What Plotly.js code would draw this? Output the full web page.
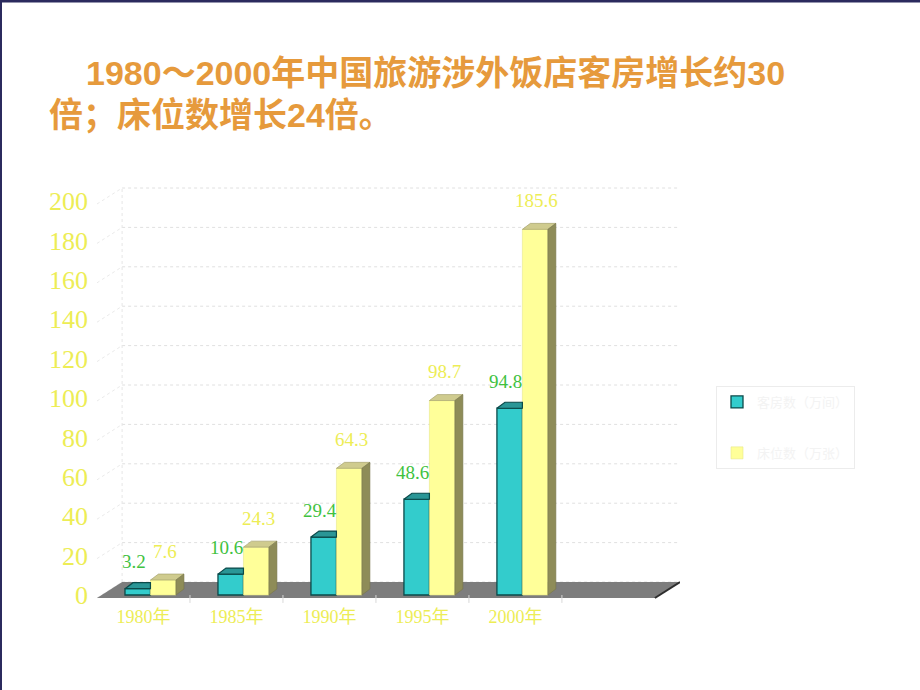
<!DOCTYPE html>
<html><head><meta charset="utf-8">
<script src="https://cdn.plot.ly/plotly-3.0.1.min.js"></script>
<style>html,body{margin:0;padding:0;background:#fff}</style>
</head><body><div id="chart" style="width:920px;height:690px"></div>
<script>
// ---- data ----
const years = ['1980年', '1985年', '1990年', '1995年', '2000年'];
const rooms = [3.2, 10.6, 29.4, 48.6, 94.8];
const beds = [7.6, 24.3, 64.3, 98.7, 185.6];
const seriesNames = ['客房数（万间）', '床位数（万张）'];
const yTickVals = [0, 20, 40, 60, 80, 100, 120, 140, 160, 180, 200];
const titleLine1 = '1980～2000年中国旅游涉外饭店客房增长约30';
const titleLine2 = '倍；床位数增长24倍。';

// ---- geometry / style ----
const L = 97, R = 680, T = 180, B = 604, W = 920, H = 690;
const PXU = 1.97, ZERO_PX = 595;
const yMin = -(B - ZERO_PX) / PXU, yMax = (ZERO_PX - T) / PXU;
const xMin = -0.5, xMax = 5.77;
const BW = 0.274, SH = 0.075, dX = 8 / 93, dY = 6 / PXU;
const fdX = 0.27, fdY = 16 / PXU, yb = -3 / PXU;
const X = px => (px - L) / (R - L);
const Y = py => (B - py) / (B - T);
const serif = "'Liberation Serif', 'Noto Sans CJK SC', serif";
const teal = '#33CCCC', tealTop = '#2A9696', tealEdge = '#0B4A4A';
const yel = '#FFFF99', yelTop = '#CFCB8E', yelSide = '#8E8C58';
const green = '#3FC23F', ylab = '#EDED55';

const idx = years.map((_, i) => i);
const traces = [];
traces.push({type: 'bar', name: seriesNames[0], legendgroup: 'g1', x: idx, y: rooms, width: BW, offset: SH - BW,
  marker: {color: teal, line: {color: tealEdge, width: 1.3}}, hoverinfo: 'skip'});
traces.push({type: 'bar', name: seriesNames[1], legendgroup: 'g2', x: idx, y: beds, width: BW, offset: SH,
  marker: {color: yel, line: {color: '#E8E88A', width: 0.6}}, hoverinfo: 'skip'});

function poly(xs, ys, fill, line, lw) {
  traces.push({type: 'scatter', mode: 'lines', x: xs.concat([xs[0]]), y: ys.concat([ys[0]]),
    fill: 'toself', fillcolor: fill, line: {color: line, width: lw}, showlegend: false, hoverinfo: 'skip'});
}
idx.forEach(i => {
  const v = rooms[i], x0 = i + SH - BW, x1 = i + SH;
  poly([x0, x1, x1, x0 + dX], [v, v, v + dY, v + dY], tealTop, tealEdge, 1.2);
});
idx.forEach(i => {
  const v = beds[i], x0 = i + SH, x1 = i + SH + BW;
  poly([x0, x1, x1 + dX, x0 + dX], [v, v, v + dY, v + dY], yelTop, '#9E9B66', 0.6);
  poly([x1, x1 + dX, x1 + dX, x1], [0, dY, v + dY, v], yelSide, '#77754A', 0.6);
});

// ---- shapes ----
const shapes = [];
yTickVals.forEach(v => {
  shapes.push({type: 'line', xref: 'x', yref: 'y', layer: 'below', x0: xMin + fdX, x1: xMax, y0: v + fdY + yb, y1: v + fdY + yb,
    line: {color: '#E0E0E0', width: 1, dash: 'dot'}});
  shapes.push({type: 'line', xref: 'x', yref: 'y', layer: 'below', x0: xMin, x1: xMin + fdX, y0: v + yb, y1: v + fdY + yb,
    line: {color: '#EAEAEA', width: 1, dash: 'dot'}});
});
shapes.push({type: 'line', xref: 'x', yref: 'y', layer: 'below', x0: xMin + fdX, x1: xMin + fdX, y0: fdY + yb, y1: 200 + fdY + yb,
  line: {color: '#E6E6E6', width: 1, dash: 'dot'}});
const fx0 = xMin, fx1 = xMin + 6;
shapes.push({type: 'path', xref: 'x', yref: 'y', layer: 'below',
  path: `M ${fx0},${yb} L ${fx1},${yb} L ${fx1 + fdX},${yb + fdY} L ${fx0 + fdX},${yb + fdY} Z`,
  fillcolor: '#7D7D7D', line: {width: 0}});
shapes.push({type: 'line', xref: 'x', yref: 'y', layer: 'below', x0: fx1, x1: fx1 + fdX, y0: yb, y1: yb + fdY,
  line: {color: '#2E2E2E', width: 2}});
for (let k = 1; k <= 5; k++) {
  shapes.push({type: 'line', xref: 'x', yref: 'y', layer: 'below', x0: xMin + k, x1: xMin + k, y0: yb - 2.5, y1: yb + 1.5,
    line: {color: '#D8D8D8', width: 1}});
}
shapes.push({type: 'line', xref: 'paper', yref: 'paper', x0: X(1), x1: X(1), y0: Y(0), y1: Y(H), line: {color: '#2B2A5E', width: 2}});
shapes.push({type: 'line', xref: 'paper', yref: 'paper', x0: X(0), x1: X(W), y0: Y(1), y1: Y(1), line: {color: '#2B2A5E', width: 3}});

// ---- annotations ----
const annotations = [];
idx.forEach(i => {
  annotations.push({xref: 'x', yref: 'y', x: i + SH - BW / 2 - 0.04, y: rooms[i], yshift: 27, showarrow: false,
    text: rooms[i].toFixed(1), font: {family: serif, size: 19, color: green}});
  annotations.push({xref: 'x', yref: 'y', x: i + SH + BW / 2 + 0.02, y: beds[i], yshift: 29, showarrow: false,
    text: beds[i].toFixed(1), font: {family: serif, size: 19, color: ylab}});
});
const titleFont = {family: "'Liberation Sans', 'Noto Sans CJK SC', sans-serif", size: 34, color: '#E69A3C', weight: 'bold'};
annotations.push({xref: 'paper', yref: 'paper', x: X(84), y: Y(73), xanchor: 'left', yanchor: 'middle', showarrow: false, text: titleLine1, font: titleFont});
annotations.push({xref: 'paper', yref: 'paper', x: X(47), y: Y(115), xanchor: 'left', yanchor: 'middle', showarrow: false, text: titleLine2, font: titleFont});

const layout = {
  width: W, height: H,
  margin: {l: L, r: W - R, t: T, b: H - B, pad: 0},
  paper_bgcolor: '#FFFFFF', plot_bgcolor: 'rgba(0,0,0,0)',
  barmode: 'overlay',
  showlegend: true,
  legend: {x: X(716), y: Y(386), xanchor: 'left', yanchor: 'top', bgcolor: '#FFFFFF',
    bordercolor: '#ECECEC', borderwidth: 1, font: {family: "'Noto Sans CJK SC', sans-serif", size: 13, color: '#F3F3F3'},
    tracegroupgap: 31, traceorder: 'grouped'},
  xaxis: {range: [xMin, xMax], tickvals: idx, ticktext: years, showgrid: false, zeroline: false, showline: false,
    ticks: '', ticklabelstandoff: 0, tickfont: {family: serif, size: 18, color: ylab}, fixedrange: true},
  yaxis: {range: [yMin, yMax], tickvals: yTickVals, ticktext: yTickVals.map(String), showgrid: false, zeroline: false,
    showline: false, ticks: '', ticklabelstandoff: 8, tickfont: {family: serif, size: 26, color: ylab}, fixedrange: true},
  shapes: shapes,
  annotations: annotations
};
Plotly.newPlot('chart', traces, layout, {displayModeBar: false, staticPlot: true});
</script></body></html>
